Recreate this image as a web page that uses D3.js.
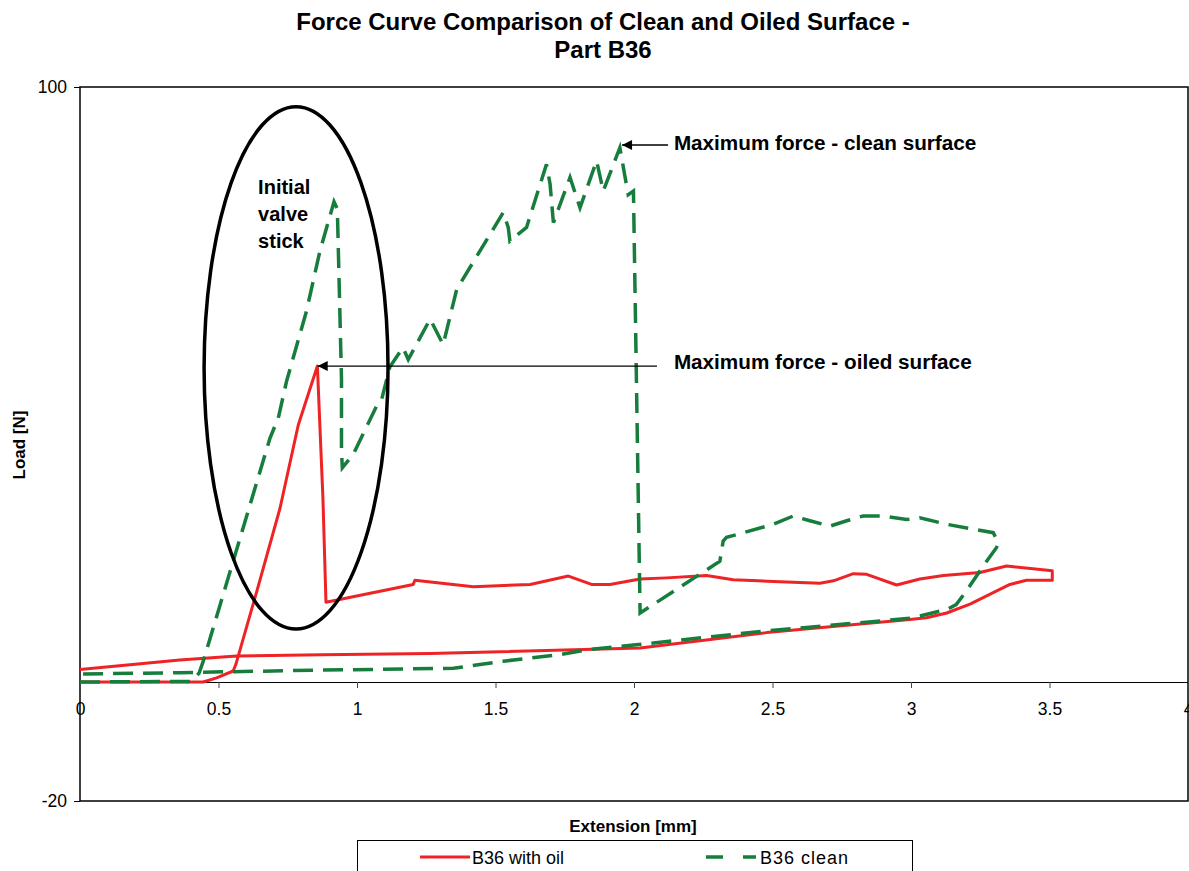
<!DOCTYPE html>
<html>
<head>
<meta charset="utf-8">
<script src="https://cdn.jsdelivr.net/npm/d3@7"></script>
<style>
  body { margin: 0; background: #fff; }
  svg { font-family: "Liberation Sans", Arial, sans-serif; display: block; }
</style>
</head>
<body>
<svg width="1189" height="871"></svg>
<script>
// B36 with oil (extension mm, load N)
var oilExt  = [0, 0.445, 0.493, 0.553, 0.563, 0.638, 0.722, 0.788, 0.857, 0.877, 0.888, 1.203, 1.209, 1.42, 1.625, 1.763, 1.847, 1.913, 2.022, 2.118, 2.262, 2.358, 2.503, 2.671, 2.72, 2.792, 2.84, 2.948, 3.032, 3.117, 3.249, 3.345, 3.51, 3.51, 3.417, 3.357, 3.213, 3.129, 3.056, 2.996, 2.479, 2.022, 1.264, 0.872, 0.566, 0.36, 0];
var oilLoad = [0, 0, 0.7, 1.85, 3.0, 15.2, 29.2, 43.2, 53.1, 30.9, 13.4, 16.4, 17.1, 16.0, 16.4, 17.8, 16.4, 16.4, 17.3, 17.5, 17.9, 17.2, 16.9, 16.6, 17.0, 18.2, 18.1, 16.3, 17.3, 17.9, 18.4, 19.5, 18.7, 17.1, 17.1, 16.4, 13.1, 11.6, 10.8, 10.5, 8.3, 5.7, 4.8, 4.6, 4.37, 3.7, 2.1];

// B36 clean
var cleanExt  = [0, 0.40, 0.43, 0.445, 0.553, 0.686, 0.716, 0.746, 0.818, 0.866, 0.917, 0.929, 0.944, 0.944, 0.947, 0.987, 1.071, 1.089, 1.119, 1.166, 1.185, 1.264, 1.311, 1.36, 1.528, 1.546, 1.552, 1.612, 1.684, 1.697, 1.709, 1.769, 1.805, 1.865, 1.889, 1.949, 1.979, 1.998, 2.022, 2.069, 2.31, 2.322, 2.334, 2.503, 2.575, 2.635, 2.708, 2.768, 2.827, 2.9, 2.984, 3.032, 3.129, 3.297, 3.315, 3.309, 3.273, 3.2, 3.163, 3.13, 2.996, 2.479, 1.998, 1.829, 1.733, 1.528, 1.348, 0.866, 0.36, 0];
var cleanLoad = [0, 0.1, 1.5, 3.5, 20.3, 41, 44.4, 50.6, 62.4, 72.4, 80.7, 79.5, 51, 38.8, 36, 38.3, 46.4, 47.5, 53, 56.2, 54.2, 61, 56.7, 66, 78.9, 76.4, 74.1, 76.4, 87, 83.7, 77.2, 84.8, 79.7, 87.6, 82.5, 89.8, 81.9, 82.5, 11.6, 13, 20.3, 23.7, 24.3, 26.5, 27.9, 27.1, 26.2, 27.1, 27.9, 27.9, 27.3, 27.6, 26.5, 25.1, 23.4, 22.6, 20.3, 15.3, 13, 12.2, 10.7, 8.6, 6.2, 5.4, 4.6, 3.5, 2.3, 2.0, 1.57, 1.35];

var xTicks = [0, 0.5, 1, 1.5, 2, 2.5, 3, 3.5, 4];
var yTicks = [-20, 100];
var seriesNames = ["B36 with oil", "B36 clean"];

var red = "#ee2326", green = "#177d3d";

var svg = d3.select("svg"),
    margin = {top: 87, right: 1, bottom: 70, left: 80},
    width = +svg.attr("width") - margin.left - margin.right,
    height = +svg.attr("height") - margin.top - margin.bottom,
    g = svg.append("g").attr("transform", "translate(" + margin.left + "," + margin.top + ")");

var x = d3.scaleLinear().domain([0, 4]).range([0, width]);
var y = d3.scaleLinear().domain([-20, 100]).range([height, 0]);

var plain = function(d) { return String(d); };

// title
svg.append("text")
    .attr("x", 603).attr("y", 30)
    .attr("text-anchor", "middle")
    .attr("font-size", 24).attr("font-weight", "bold")
    .text("Force Curve Comparison of Clean and Oiled Surface -");
svg.append("text")
    .attr("x", 603).attr("y", 58)
    .attr("text-anchor", "middle")
    .attr("font-size", 24).attr("font-weight", "bold")
    .text("Part B36");

// plot border
g.append("rect")
    .attr("width", width).attr("height", height)
    .attr("fill", "none").attr("stroke", "#000").attr("stroke-width", 1.5);

// x axis at zero
var xAxis = g.append("g")
    .attr("transform", "translate(0," + y(0) + ")")
    .call(d3.axisBottom(x).tickValues(xTicks).tickFormat(plain).tickSize(6).tickSizeOuter(0).tickPadding(15));
xAxis.select(".domain").attr("stroke", "#000");
xAxis.selectAll("line").attr("stroke", "#444");
xAxis.selectAll("text").attr("font-size", 17.5).attr("fill", "#000").attr("font-family", null);

var yAxis = g.append("g")
    .call(d3.axisLeft(y).tickValues(yTicks).tickFormat(plain).tickSize(6).tickPadding(7));
yAxis.select(".domain").remove();
yAxis.selectAll("line").attr("stroke", "#000");
yAxis.selectAll("text").attr("font-size", 17.5).attr("fill", "#000").attr("font-family", null);

// axis titles
svg.append("text")
    .attr("x", 633).attr("y", 832)
    .attr("text-anchor", "middle")
    .attr("font-size", 17).attr("font-weight", "bold")
    .text("Extension [mm]");
svg.append("text")
    .attr("transform", "translate(25,445) rotate(-90)")
    .attr("text-anchor", "middle")
    .attr("font-size", 17).attr("font-weight", "bold")
    .text("Load [N]");

var line = d3.line()
    .x(function(d) { return x(d[0]); })
    .y(function(d) { return y(d[1]); });

var oilData = oilExt.map(function(v, i) { return [v, oilLoad[i]]; });
var cleanData = cleanExt.map(function(v, i) { return [v, cleanLoad[i]]; });

g.append("path")
    .datum(oilData)
    .attr("d", line)
    .attr("fill", "none")
    .attr("stroke", red)
    .attr("stroke-width", 3)
    .attr("stroke-linejoin", "round");

g.append("path")
    .datum(cleanData)
    .attr("d", line)
    .attr("fill", "none")
    .attr("stroke", green)
    .attr("stroke-width", 3.5)
    .attr("stroke-dasharray", "20,10");

// annotations
g.append("ellipse")
    .attr("cx", x(0.78)).attr("cy", y(52.8))
    .attr("rx", x(0.332) - x(0)).attr("ry", y(0) - y(43.9))
    .attr("fill", "none").attr("stroke", "#000").attr("stroke-width", 3.5);

svg.append("defs").append("marker")
    .attr("id", "arrow")
    .attr("viewBox", "0 0 10 10")
    .attr("refX", 0).attr("refY", 5)
    .attr("markerWidth", 12).attr("markerHeight", 10)
    .attr("markerUnits", "userSpaceOnUse")
    .attr("orient", "auto")
  .append("path")
    .attr("d", "M0,5L10,0L10,10Z")
    .attr("fill", "#000");

var arrows = [
  {x1: 2.123, x2: 1.957, y: 90.25},
  {x1: 2.083, x2: 0.858, y: 53.1}
];
g.selectAll(".arrow")
  .data(arrows)
  .enter().append("line")
    .attr("class", "arrow")
    .attr("x1", function(d) { return x(d.x2); })
    .attr("x2", function(d) { return x(d.x1); })
    .attr("y1", function(d) { return y(d.y); })
    .attr("y2", function(d) { return y(d.y); })
    .attr("stroke", "#000").attr("stroke-width", 1.3)
    .attr("marker-start", "url(#arrow)");

var notes = [
  {x: 2.144, y: 89.4, t: "Maximum force - clean surface", s: 20.7},
  {x: 2.144, y: 52.6, t: "Maximum force - oiled surface", s: 20.7},
  {x: 0.643, y: 82.0, t: "Initial", s: 20},
  {x: 0.643, y: 77.5, t: "valve", s: 20},
  {x: 0.643, y: 72.9, t: "stick", s: 20}
];
g.selectAll(".note")
  .data(notes)
  .enter().append("text")
    .attr("class", "note")
    .attr("x", function(d) { return x(d.x); })
    .attr("y", function(d) { return y(d.y); })
    .attr("font-size", function(d) { return d.s; }).attr("font-weight", "bold")
    .text(function(d) { return d.t; });

// legend
svg.append("rect")
    .attr("x", 357.5).attr("y", 840.5)
    .attr("width", 555).attr("height", 40)
    .attr("fill", "#fff").attr("stroke", "#000").attr("stroke-width", 1);

var legend = svg.selectAll(".legend")
  .data(seriesNames)
  .enter().append("g")
    .attr("class", "legend")
    .attr("transform", function(d, i) { return "translate(" + (420 + i * 286) + ",857)"; });
legend.append("line")
    .attr("x1", 0).attr("x2", 50)
    .attr("stroke", function(d, i) { return i ? green : red; })
    .attr("stroke-width", function(d, i) { return i ? 3.5 : 3; })
    .attr("stroke-dasharray", function(d, i) { return i ? "17,20" : null; });
legend.append("text")
    .attr("x", function(d, i) { return i ? 54 : 52; }).attr("y", 7)
    .attr("font-size", 18)
    .attr("letter-spacing", function(d, i) { return i ? 1 : null; })
    .text(function(d) { return d; });
</script>
</body>
</html>
